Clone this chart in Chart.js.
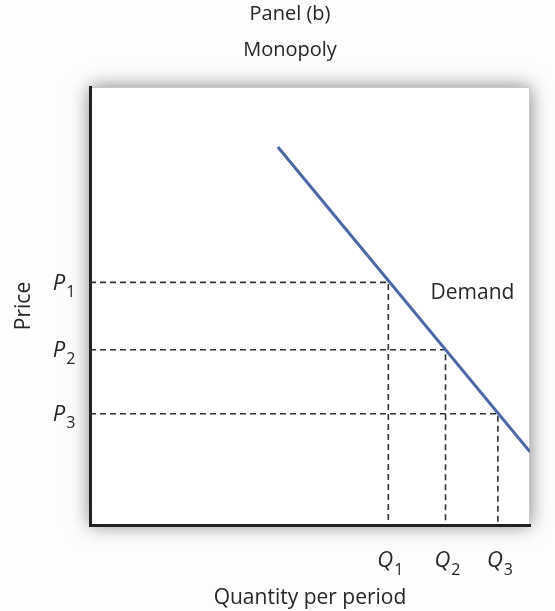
<!DOCTYPE html>
<html>
<head>
<meta charset="utf-8">
<script src="https://cdn.jsdelivr.net/npm/chart.js@4"></script>
<style>
  html, body { margin: 0; padding: 0; background: #fdfdfd; }
  #wrap { width: 555px; height: 611px; }
</style>
</head>
<body>
<div id="wrap"><canvas id="myChart"></canvas></div>
<script>
// values (axes run 0..10)
var quantities = [6.78, 8.08, 9.27];
var prices = [5.54, 4.0, 2.54];
var qLabels = ['Q1', 'Q2', 'Q3'];
var pLabels = ['P1', 'P2', 'P3'];
var demandX = [4.27, 10];
var demandY = [8.63, 1.67];

var fontFamily = "'Open Sans', 'Noto Sans', sans-serif";
var textColor = '#262626';

var demandData = demandX.map(function (x, i) { return { x: x, y: demandY[i] }; });

var datasets = [{
  label: 'Demand',
  data: demandData,
  showLine: true,
  borderColor: '#4a67a6',
  borderWidth: 3,
  pointRadius: 0,
  fill: false
}];

// dashed guides from each price to the curve and down to each quantity
quantities.forEach(function (q, i) {
  datasets.push({
    label: 'guide ' + (i + 1),
    data: [{ x: 0, y: prices[i] }, { x: q, y: prices[i] }, { x: q, y: 0 }],
    showLine: true,
    borderColor: '#333',
    borderWidth: 1.6,
    borderDash: [6, 4],
    pointRadius: 0,
    fill: false
  });
});

// white plot box with a soft shadow behind it
var boxShadow = {
  id: 'boxShadow',
  beforeDraw: function (chart) {
    var a = chart.chartArea, ctx = chart.ctx;
    ctx.save();
    ctx.shadowColor = 'rgba(0,0,0,0.5)';
    ctx.shadowBlur = 18;
    ctx.fillStyle = '#fff';
    ctx.fillRect(a.left, a.top, a.right - a.left, a.bottom - a.top);
    ctx.restore();
    ctx.save();
    ctx.strokeStyle = '#c8c8c8';
    ctx.lineWidth = 1;
    ctx.beginPath();
    ctx.moveTo(a.left, a.top + 0.5);
    ctx.lineTo(a.right - 0.5, a.top + 0.5);
    ctx.lineTo(a.right - 0.5, a.bottom);
    ctx.stroke();
    ctx.restore();
  }
};

// italic letter + subscript tick labels, and the curve label
function drawSub(ctx, label, cx, cy) {
  var main = label.charAt(0), sub = label.slice(1);
  ctx.font = 'italic 22px ' + fontFamily;
  var w1 = ctx.measureText(main).width;
  ctx.font = '16px ' + fontFamily;
  var w2 = ctx.measureText(sub).width;
  var x0 = cx - (w1 + w2 + 1) / 2;
  ctx.textBaseline = 'middle';
  ctx.textAlign = 'left';
  ctx.font = 'italic 22px ' + fontFamily;
  ctx.fillText(main, x0, cy);
  ctx.font = '16px ' + fontFamily;
  ctx.fillText(sub, x0 + w1 + 1, cy + 9);
}

var labels = {
  id: 'labels',
  afterDraw: function (chart) {
    var ctx = chart.ctx, xs = chart.scales.x, ys = chart.scales.y;
    ctx.save();
    ctx.fillStyle = textColor;
    pLabels.forEach(function (lab, i) {
      drawSub(ctx, lab, 64, ys.getPixelForValue(prices[i]) + 1);
    });
    qLabels.forEach(function (lab, i) {
      drawSub(ctx, lab, xs.getPixelForValue(quantities[i]) + 2, ys.bottom + 36);
    });
    ctx.font = '21px ' + fontFamily;
    ctx.textAlign = 'left';
    ctx.textBaseline = 'middle';
    ctx.fillText('Demand', xs.getPixelForValue(7.74), ys.getPixelForValue(5.3));
    ctx.restore();
  }
};

var ctx = document.getElementById('myChart').getContext('2d');
var myChart = new Chart(ctx, {
  type: 'scatter',
  data: { datasets: datasets },
  plugins: [boxShadow, labels],
  options: {
    responsive: true,
    maintainAspectRatio: false,
    animation: false,
    layout: { padding: { left: 50, right: 25, top: 0, bottom: 0 } },
    plugins: {
      legend: { display: false },
      tooltip: { enabled: false },
      title: {
        display: true,
        text: 'Panel (b)',
        color: textColor,
        font: { family: fontFamily, size: 20, weight: 'normal' },
        padding: { top: 2, bottom: 12 }
      },
      subtitle: {
        display: true,
        text: 'Monopoly',
        color: textColor,
        font: { family: fontFamily, size: 20, weight: 'normal' },
        padding: { top: 0, bottom: 25 }
      }
    },
    scales: {
      x: {
        type: 'linear',
        min: 0,
        max: 10,
        grid: { display: false, drawTicks: false },
        border: { display: true, color: '#222', width: 3 },
        ticks: { display: false },
        title: {
          display: true,
          text: 'Quantity per period',
          color: textColor,
          font: { family: fontFamily, size: 21 },
          padding: { top: 0, bottom: 0.4 }
        },
        afterFit: function (scale) { scale.height = 86; }
      },
      y: {
        type: 'linear',
        min: 0,
        max: 10,
        grid: { display: false, drawTicks: false },
        border: { display: true, color: '#222', width: 3 },
        ticks: { display: false },
        title: {
          display: true,
          text: 'Price',
          color: textColor,
          font: { family: fontFamily, size: 21 },
          padding: { top: -38.6, bottom: 0 }
        },
        afterFit: function (scale) { scale.width = 40; }
      }
    }
  }
});
</script>
</body>
</html>
